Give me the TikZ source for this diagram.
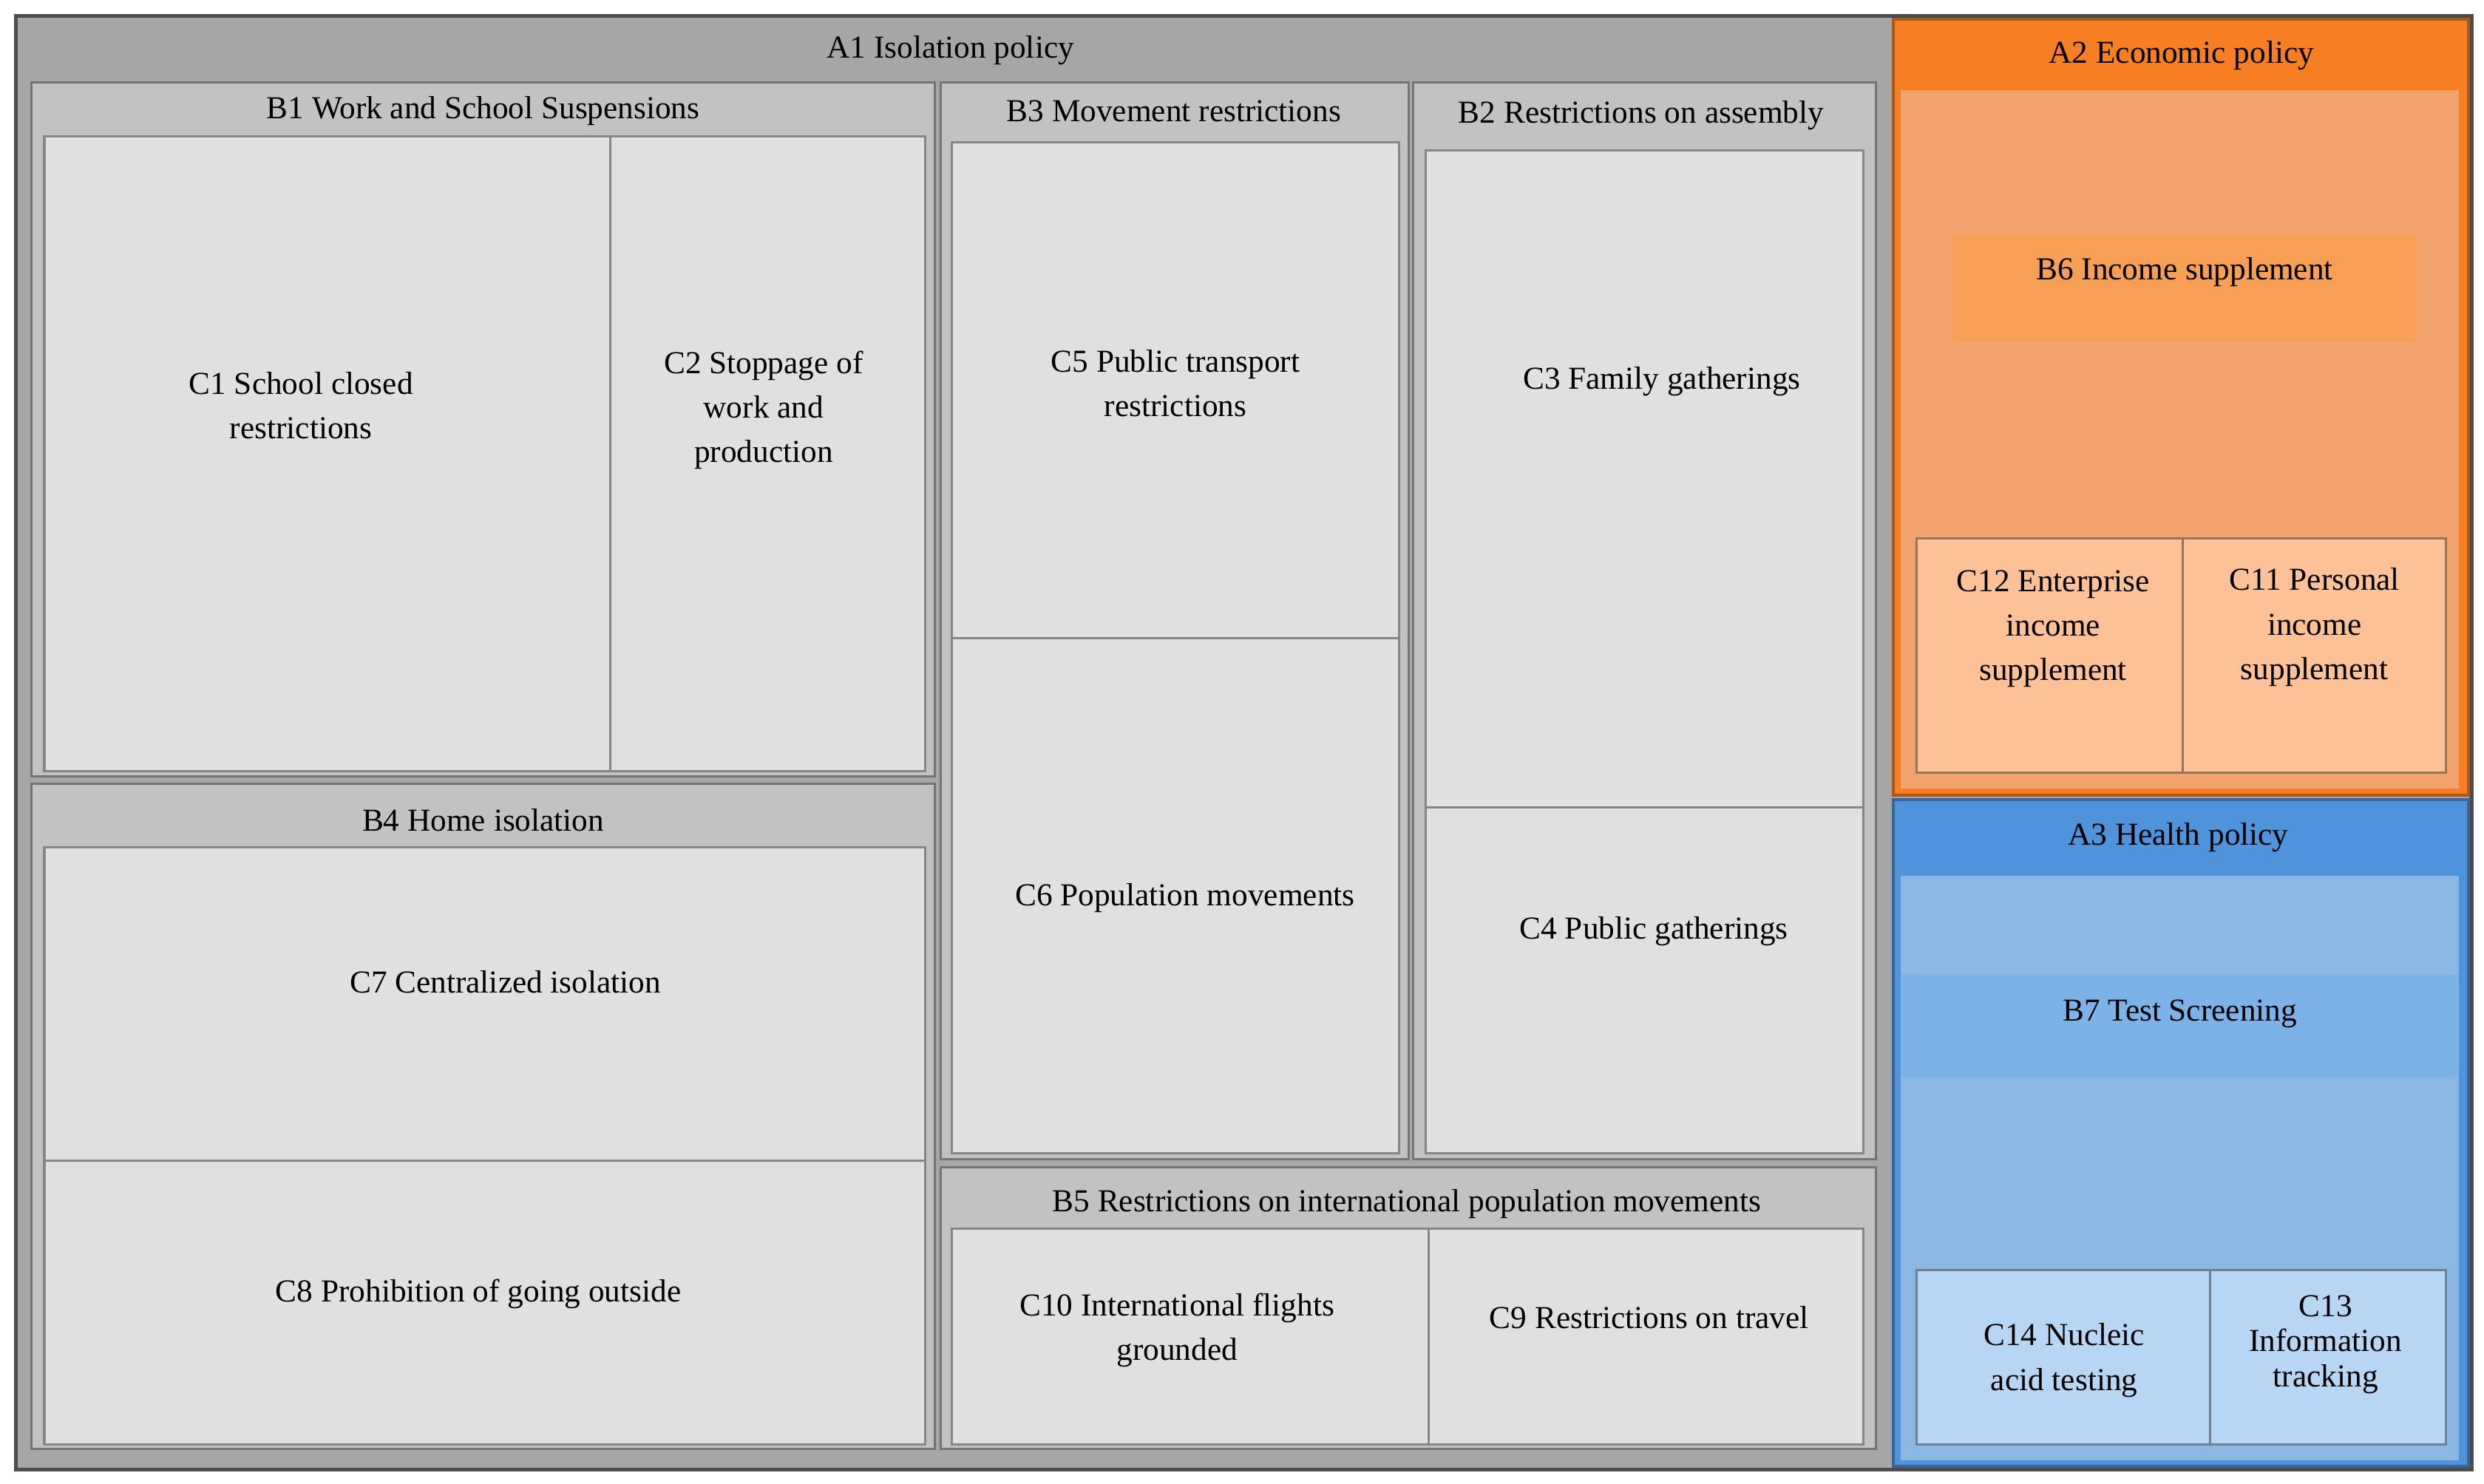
\documentclass[tikz,border=0pt]{standalone}
\usepackage{fontspec}
\setmainfont{Liberation Serif}
\definecolor{gA}{HTML}{A6A6A6}
\definecolor{gB}{HTML}{C2C2C2}
\definecolor{gC}{HTML}{E0E0E0}
\definecolor{oA}{HTML}{F57F22}
\definecolor{oB}{HTML}{F2A36C}
\definecolor{oH}{HTML}{F99F55}
\definecolor{oC}{HTML}{FCC196}
\definecolor{bA}{HTML}{4E93DC}
\definecolor{bB}{HTML}{8DB7E3}
\definecolor{bH}{HTML}{7DB2E8}
\definecolor{bC}{HTML}{B7D6F3}
\begin{document}
\begin{tikzpicture}[x=0.02cm, y=-0.02cm,
    box/.style={draw=#1!60!black, line width=0.8pt},
    lbl/.style={font=\fontsize{11.5}{16}\selectfont, align=center, text=black}]
    \def\cell#1#2#3#4#5{
        \filldraw[fill=#5, box=#5] (#1,#2) rectangle (#3,#4);
    }
    \useasboundingbox (0,0) rectangle (1568,937);
    \fill[white] (0,0) rectangle (1568,937);

    % A1 isolation policy
    \filldraw[fill=gA, draw=black!70, line width=1.5pt] (10,10) rectangle (1560,928);
    \cell{20}{52}{590}{490}{gB}
    \cell{594}{52}{889}{732}{gB}
    \cell{892}{52}{1184}{732}{gB}
    \cell{20}{495}{590}{915}{gB}
    \cell{594}{737}{1184}{915}{gB}
    \cell{28}{86}{385}{487}{gC}
    \cell{385}{86}{584}{487}{gC}
    \cell{601}{90}{883}{403}{gC}
    \cell{601}{403}{883}{728}{gC}
    \cell{900}{95}{1176}{510}{gC}
    \cell{900}{510}{1176}{728}{gC}
    \cell{28}{535}{584}{733}{gC}
    \cell{28}{733}{584}{912}{gC}
    \cell{601}{776}{902}{912}{gC}
    \cell{902}{776}{1176}{912}{gC}

    % A2 economic policy
    \filldraw[fill=oA, draw=oA!70!black, line width=1pt] (1195,12) rectangle (1558,502);
    \fill[oB] (1200,57) rectangle (1552,498);
    \fill[oH] (1233,148) rectangle (1525,216);
    \cell{1210}{340}{1378}{488}{oC}
    \cell{1378}{340}{1544}{488}{oC}

    % A3 health policy
    \filldraw[fill=bA, draw=bA!70!black, line width=1pt] (1195,505) rectangle (1558,926);
    \fill[bB] (1200,553) rectangle (1552,922);
    \fill[bH] (1200,615) rectangle (1552,680);
    \cell{1210}{802}{1395}{912}{bC}
    \cell{1395}{802}{1544}{912}{bC}

    \node[lbl] (a1) at (600,32) {A1 Isolation policy};
    \node[lbl] (a2) at (1377,35) {A2 Economic policy};
    \node[lbl] (a3) at (1375,529) {A3 Health policy};
    \node[lbl] (b1) at (305,70) {B1 Work and School Suspensions};
    \node[lbl] (b3) at (741,70) {B3 Movement restrictions};
    \node[lbl] (b2) at (1036,73) {B2 Restrictions on assembly};
    \node[lbl] (b4) at (305,518) {B4 Home isolation};
    \node[lbl] (b5) at (888,760) {B5 Restrictions on international population movements};
    \node[lbl] (b6) at (1379,172) {B6 Income supplement};
    \node[lbl] (b7) at (1376,640) {B7 Test Screening};
    \node[lbl] (c1) at (190,256) {C1 School closed\\restrictions};
    \node[lbl] (c2) at (482,259) {C2 Stoppage of\\work and\\production};
    \node[lbl] (c5) at (742,242) {C5 Public transport\\restrictions};
    \node[lbl] (c6) at (748,567) {C6 Population movements};
    \node[lbl] (c3) at (1049,241) {C3 Family gatherings};
    \node[lbl] (c4) at (1044,588) {C4 Public gatherings};
    \node[lbl] (c7) at (319,620) {C7 Centralized isolation};
    \node[lbl] (c8) at (302,817) {C8 Prohibition of going outside};
    \node[lbl] (c10) at (743,840) {C10 International flights\\grounded};
    \node[lbl] (c9) at (1041,832) {C9 Restrictions on travel};
    \node[lbl] (c12) at (1296,397) {C12 Enterprise\\income\\supplement};
    \node[lbl] (c11) at (1461,396) {C11 Personal\\income\\supplement};
    \node[lbl] (c14) at (1303,859) {C14 Nucleic\\acid testing};
    \node[lbl, font=\fontsize{11.5}{12.5}\selectfont] (c13) at (1468,849) {C13\\Information\\tracking};
\end{tikzpicture}
\end{document}
